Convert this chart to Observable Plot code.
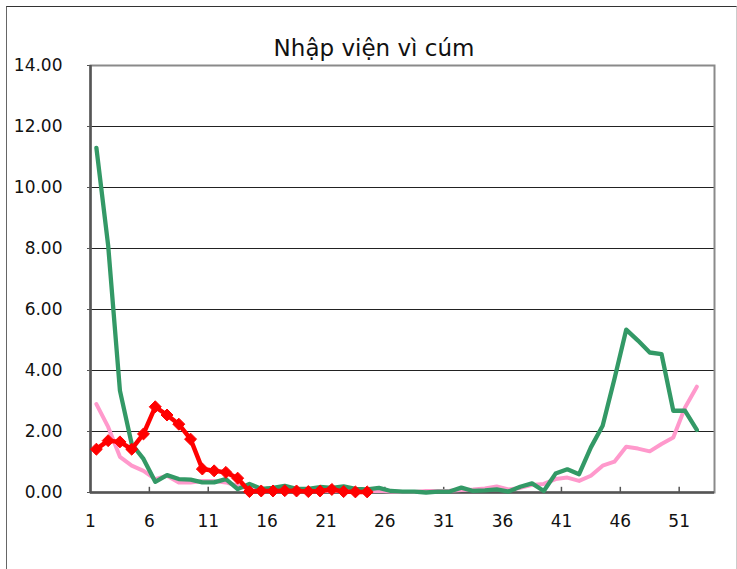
<!DOCTYPE html>
<html>
<head>
<meta charset="utf-8">
<script src="https://cdn.jsdelivr.net/npm/d3@7"></script>
<script src="https://cdn.jsdelivr.net/npm/@observablehq/plot@0.6"></script>
<style>
  html, body { margin: 0; padding: 0; background: #fff; }
  #wrap { position: relative; width: 737px; height: 569px; overflow: hidden; background: #fff; }
  #border { position: absolute; left: 6px; top: 6px; width: 729px; height: 600px;
            border-top: 1.5px solid #333; border-left: 1px solid #666; border-right: 1px solid #ccc; }
  #title { position: absolute; left: 0; top: 35px; width: 737px; padding-left: 11px; box-sizing: border-box;
           text-align: center; font-family: "DejaVu Sans", sans-serif; font-size: 23px; line-height: 26px; color: #111; }
  #chart { position: absolute; left: 0; top: 0; }
</style>
</head>
<body>
<div id="wrap">
  <div id="border"></div>
  <div id="title">Nhập viện vì cúm</div>
  <div id="chart"></div>
</div>
<script>
// Weeks 1..52
const weeks = d3.range(1, 53);

// Pink series (weeks 1-52)
const pinkValues = [2.9, 2.15, 1.17, 0.88, 0.71, 0.44, 0.55, 0.33, 0.33, 0.38, 0.38, 0.33, 0.22,
  0.12, 0.08, 0.06, 0.06, 0.05, 0.05, 0.06, 0.05, 0.05, 0.05, 0.04, 0.06, 0.03,
  0.02, 0.02, 0.05, 0.05, 0.06, 0.08, 0.1, 0.13, 0.2, 0.1, 0.15, 0.25, 0.28,
  0.44, 0.49, 0.38, 0.55, 0.88, 1.01, 1.5, 1.44, 1.35, 1.59, 1.8, 2.79, 3.47];

// Green series (weeks 1-52)
const greenValues = [11.3, 8.1, 3.34, 1.59, 1.10, 0.35, 0.57, 0.44, 0.42, 0.33, 0.33, 0.44, 0.11,
  0.28, 0.12, 0.15, 0.22, 0.12, 0.12, 0.18, 0.15, 0.2, 0.12, 0.1, 0.15, 0.05,
  0.03, 0.03, 0.0, 0.03, 0.03, 0.16, 0.05, 0.07, 0.10, 0.03, 0.19, 0.30,
  0.05, 0.62, 0.76, 0.60, 1.48, 2.19, 3.72, 5.34, 4.98, 4.59, 4.54, 2.68, 2.68, 2.05];

// Red series with diamond markers (weeks 1-24)
const redValues = [1.42, 1.70, 1.66, 1.42, 1.92, 2.81, 2.54, 2.24, 1.75, 0.77, 0.71, 0.66, 0.47,
  0.03, 0.05, 0.05, 0.06, 0.05, 0.03, 0.05, 0.1, 0.03, 0.02, 0.02];

// Axis ticks
const yTicks = [0, 2, 4, 6, 8, 10, 12, 14];
const xTickLabels = [1, 6, 11, 16, 21, 26, 31, 36, 41, 46, 51];

const pink = weeks.map((w, i) => ({week: w, value: pinkValues[i]}));
const green = weeks.map((w, i) => ({week: w, value: greenValues[i]}));
const red = redValues.map((v, i) => ({week: i + 1, value: v}));
// Category axis: ticks/labels sit on category boundaries
const xTickPos = xTickLabels.map(d => d - 0.5);

const chart = Plot.plot({
  width: 737,
  height: 569,
  marginLeft: 90,
  marginRight: 23,
  marginTop: 65,
  marginBottom: 77,
  x: {domain: [0.5, 53.5]},
  y: {domain: [0, 14]},
  style: {fontFamily: "DejaVu Sans, sans-serif", fontSize: "17px", color: "#111", background: "transparent", overflow: "visible"},
  marks: [
    Plot.ruleY(yTicks.filter(d => d > 0 && d < 14), {stroke: "#222", strokeWidth: 1}),
    Plot.frame({stroke: "#8a8a8a", strokeWidth: 2}),
    Plot.ruleX([0.5], {stroke: "#555", strokeWidth: 2.5}),
    Plot.ruleY([0], {stroke: "#555", strokeWidth: 2.5}),
    Plot.axisY({ticks: yTicks, tickFormat: d3.format(".2f"), tickSize: 3, tickPadding: 25, label: null, stroke: "#555"}),
    Plot.axisX({ticks: xTickPos, tickFormat: d => String(d + 0.5), tickSize: 0, tickPadding: 22, label: null}),
    Plot.ruleX(xTickPos.slice(1), {y1: 0, y2: 0.17, stroke: "#555", strokeWidth: 1.5}),
    Plot.line(pink, {x: "week", y: "value", stroke: "#FF99CC", strokeWidth: 4, strokeLinejoin: "round"}),
    Plot.line(green, {x: "week", y: "value", stroke: "#339966", strokeWidth: 4.3, strokeLinejoin: "round"}),
    Plot.line(red, {x: "week", y: "value", stroke: "#FF0000", strokeWidth: 4.5, strokeLinejoin: "round"}),
    Plot.dot(red, {x: "week", y: "value", symbol: "diamond2", r: 5.4, fill: "#FF0000", stroke: "#FF0000", strokeWidth: 1})
  ]
});
document.getElementById("chart").appendChild(chart);
</script>
</body>
</html>
